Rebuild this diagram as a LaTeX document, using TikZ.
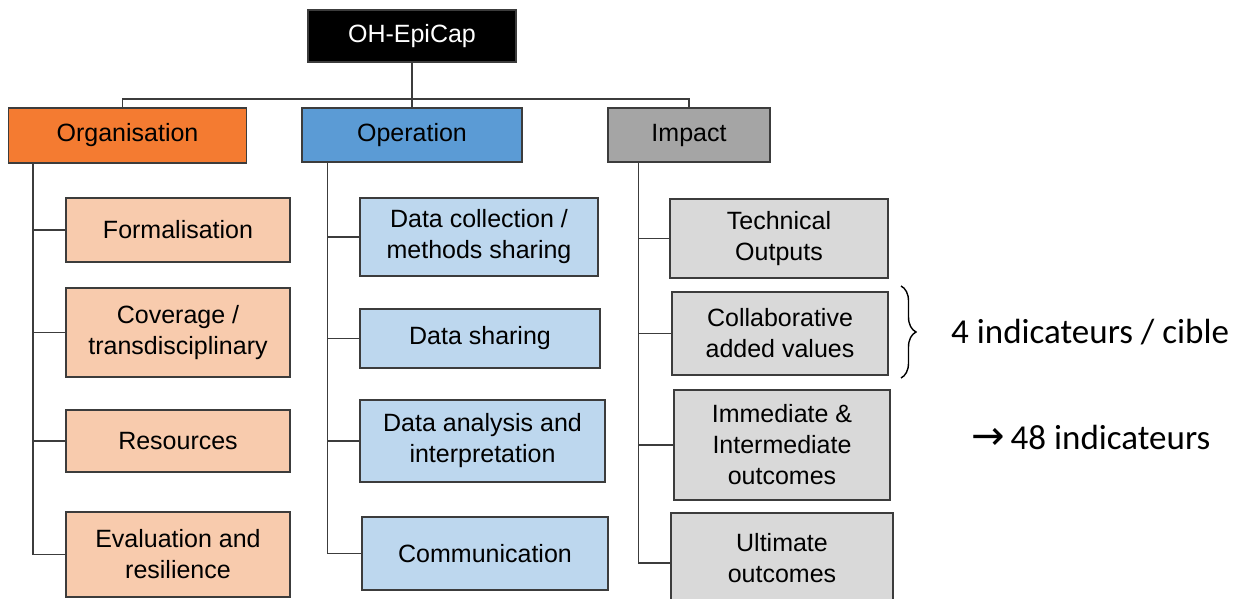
\documentclass[tikz,border=0pt]{standalone}
\usepackage{fontspec}
\setmainfont{Liberation Sans}
\newfontfamily\notefont{Carlito}
\newfontfamily\symfont{DejaVu Sans}
\usetikzlibrary{decorations.pathreplacing}
\definecolor{orgdark}{RGB}{244,123,49}
\definecolor{orglight}{RGB}{248,203,173}
\definecolor{opdark}{RGB}{91,155,213}
\definecolor{oplight}{RGB}{189,215,238}
\definecolor{impdark}{RGB}{165,165,165}
\definecolor{implight}{RGB}{217,217,217}
\definecolor{edge}{RGB}{60,60,60}
\tikzset{
  box/.style={draw=edge, line width=1.4pt, align=center, inner sep=2pt,
    font=\fontsize{25}{31}\selectfont, text=black},
  topbox/.style={box, fill=black, text=white},
  orgh/.style={box, fill=orgdark},
  oph/.style={box, fill=opdark},
  imph/.style={box, fill=impdark},
  orgc/.style={box, fill=orglight},
  opc/.style={box, fill=oplight},
  impc/.style={box, fill=implight},
  conn/.style={draw=edge, line width=1.6pt},
  note/.style={font=\notefont\fontsize{35}{40}\selectfont, text=black, inner sep=0pt}
}
\begin{document}
\begin{tikzpicture}[x=1pt,y=-1pt]
\useasboundingbox[fill=white] (0,0) rectangle (1234,599);
% top
\node[topbox, minimum width=208, minimum height=52] (top) at (412,36) {OH-EpiCap};
% headers
\node[orgh, minimum width=238, minimum height=55] (org) at (127.5,135.5) {Organisation};
\node[oph, minimum width=220, minimum height=54] (op) at (412,135) {Operation};
\node[imph, minimum width=162, minimum height=54] (imp) at (689,135) {Impact};
% organisation children
\node[orgc, minimum width=224, minimum height=64] (f1) at (178,230) {Formalisation};
\node[orgc, minimum width=224, minimum height=89] (f2) at (178,332.5) {Coverage /\\transdisciplinary};
\node[orgc, minimum width=224, minimum height=62] (f3) at (178,441) {Resources};
\node[orgc, minimum width=224, minimum height=85] (f4) at (178,554.5) {Evaluation and\\resilience};
% operation children
\node[opc, minimum width=238, minimum height=78] (o1) at (479,237) {Data collection /\\methods sharing};
\node[opc, minimum width=240, minimum height=59] (o2) at (480,338.5) {Data sharing};
\node[opc, minimum width=245, minimum height=82] (o3) at (482.5,441) {Data analysis and\\interpretation};
\node[opc, minimum width=246, minimum height=73] (o4) at (485,553.5) {Communication};
% impact children
\node[impc, minimum width=218, minimum height=79] (i1) at (779,238.5) {Technical\\Outputs};
\node[impc, minimum width=216, minimum height=83] (i2) at (780,333.5) {Collaborative\\added values};
\node[impc, minimum width=216, minimum height=110] (i3) at (782,445) {Immediate \&\\Intermediate\\outcomes};
\node[impc, minimum width=222, minimum height=90] (i4) at (782,558) {Ultimate\\outcomes};
% top connectors
\draw[conn] (top.south) -- (op.north);
\draw[conn] ([xshift=-5]org.north) -- ++(0,-8) coordinate (hl) -| (imp.north);
% trunks
\coordinate (ot) at ([xshift=25]org.south west);
\coordinate (pt) at ([xshift=26]op.south west);
\coordinate (mt) at ([xshift=31]imp.south west);
\draw[conn] (ot) |- (f1.west);
\draw[conn] (ot) |- (f2.west);
\draw[conn] (ot) |- (f3.west);
\draw[conn] (ot) |- (f4.west);
\draw[conn] (pt) |- (o1.west);
\draw[conn] (pt) |- (o2.west);
\draw[conn] (pt) |- (o3.west);
\draw[conn] (pt) |- (o4.west);
\draw[conn] (mt) |- (i1.west);
\draw[conn] (mt) |- (i2.west);
\draw[conn] (mt) |- (i3.west);
\draw[conn] (mt) |- ([yshift=-5]i4.west);
% brace and notes
\coordinate (b1) at (901,286);
\coordinate (b2) at (901,378);
\draw[line width=1.4pt, decorate, decoration={brace, amplitude=15pt}] (b1) -- (b2);
\node[note, anchor=west] (n1) at (951,332) {4 indicateurs / cible};
\node[note, anchor=west] (n2) at (971,437) {{\symfont\fontsize{40}{40}\selectfont →}\hspace{6pt}48 indicateurs};
\end{tikzpicture}
\end{document}
